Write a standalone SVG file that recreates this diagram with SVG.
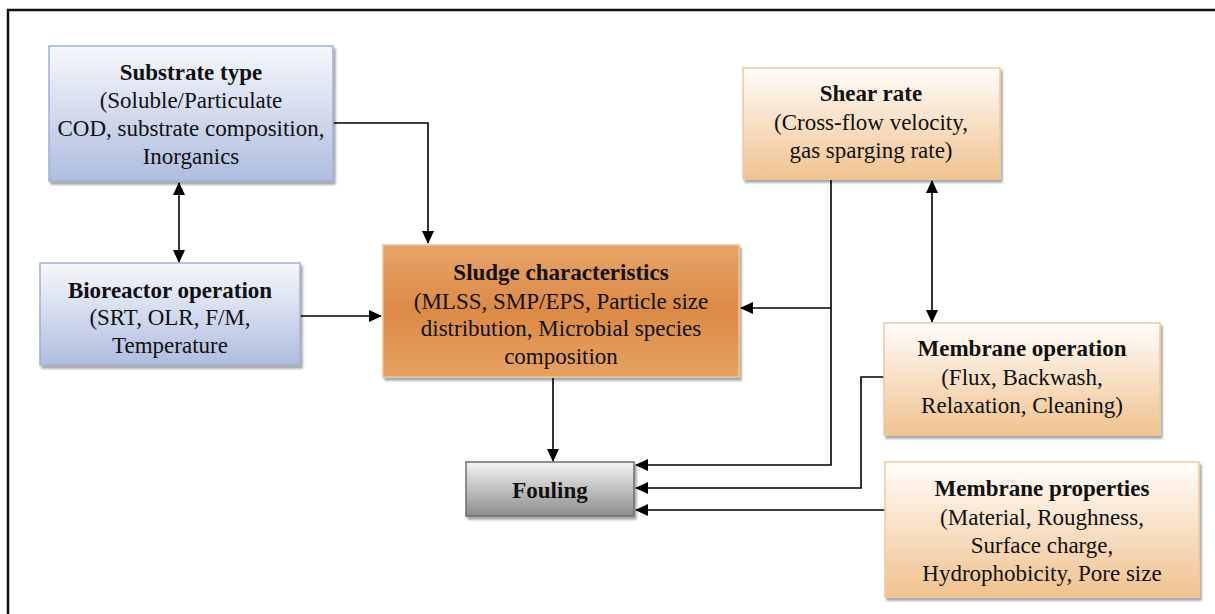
<svg xmlns="http://www.w3.org/2000/svg" width="1215" height="614" viewBox="0 0 1215 614">
<defs>
<linearGradient id="gBlue" x1="0" y1="0" x2="0" y2="1">
<stop offset="0" stop-color="#f7f8fc"/><stop offset="1" stop-color="#aebddf"/>
</linearGradient>
<linearGradient id="gPeach" x1="0" y1="0" x2="0" y2="1">
<stop offset="0" stop-color="#fffdfa"/><stop offset="1" stop-color="#f0c28f"/>
</linearGradient>
<linearGradient id="gOrange" x1="0" y1="0" x2="0" y2="1">
<stop offset="0" stop-color="#e7a469"/><stop offset="0.5" stop-color="#dc8a45"/><stop offset="1" stop-color="#e6a264"/>
</linearGradient>
<linearGradient id="gGray" x1="0" y1="0" x2="0" y2="1">
<stop offset="0" stop-color="#f4f4f4"/><stop offset="1" stop-color="#8c8c8c"/>
</linearGradient>
<marker id="ah" markerWidth="13" markerHeight="12" refX="12" refY="6" orient="auto-start-reverse" markerUnits="userSpaceOnUse">
<path d="M0,0 L13,6 L0,12 Z" fill="#000"/>
</marker>
<filter id="sh" x="-5%" y="-5%" width="115%" height="130%">
<feDropShadow dx="2" dy="3" stdDeviation="1.2" flood-color="#000" flood-opacity="0.35"/>
</filter>
</defs>
<style>
.t{font-family:"Liberation Serif","Times New Roman",serif;font-size:23px;fill:#111;text-anchor:middle}
.b{font-weight:bold}
.c{fill:none;stroke:#000;stroke-width:1.6}
.box{filter:url(#sh)}
</style>
<rect x="0" y="0" width="1215" height="614" fill="#fff"/>
<path d="M8,620 L8,10 L1220,10" fill="none" stroke="#111" stroke-width="2.5"/>

<g id="connectors">
<path class="c" d="M333,123 L428,123 L428,243" marker-end="url(#ah)"/>
<path class="c" d="M179,183 L179,262" marker-start="url(#ah)" marker-end="url(#ah)"/>
<path class="c" d="M300,316 L381,316" marker-end="url(#ah)"/>
<path class="c" d="M831,180 L831,465 L636,465" marker-end="url(#ah)"/>
<path class="c" d="M831,308 L741,308" marker-end="url(#ah)"/>
<path class="c" d="M932,181 L932,322" marker-start="url(#ah)" marker-end="url(#ah)"/>
<path class="c" d="M884,377 L861,377 L861,488 L636,488" marker-end="url(#ah)"/>
<path class="c" d="M885,510 L636,510" marker-end="url(#ah)"/>
<path class="c" d="M553,378 L553,461" marker-end="url(#ah)"/>
</g>

<g id="substrate">
<rect class="box" x="49" y="46" width="284" height="135" fill="url(#gBlue)" stroke="#9fb0d6" stroke-width="1.5"/>
<text class="t b" x="191" y="80">Substrate type</text>
<text class="t" x="191" y="108">(Soluble/Particulate</text>
<text class="t" x="191" y="136">COD, substrate composition,</text>
<text class="t" x="191" y="164">Inorganics</text>
</g>

<g id="bioreactor">
<rect class="box" x="40" y="263" width="260" height="102" fill="url(#gBlue)" stroke="#9fb0d6" stroke-width="1.5"/>
<text class="t b" x="170" y="298">Bioreactor operation</text>
<text class="t" x="170" y="325">(SRT, OLR, F/M,</text>
<text class="t" x="170" y="353">Temperature</text>
</g>

<g id="sludge">
<rect class="box" x="383" y="245" width="356" height="132" fill="url(#gOrange)" stroke="#efbf8f" stroke-width="1.5"/>
<text class="t b" x="561" y="280">Sludge characteristics</text>
<text class="t" x="561" y="309">(MLSS, SMP/EPS, Particle size</text>
<text class="t" x="561" y="336">distribution, Microbial species</text>
<text class="t" x="561" y="364">composition</text>
</g>

<g id="shear">
<rect class="box" x="743" y="68" width="257" height="111" fill="url(#gPeach)" stroke="#ecc9a0" stroke-width="1.5"/>
<text class="t b" x="871" y="101">Shear rate</text>
<text class="t" x="871" y="130">(Cross-flow velocity,</text>
<text class="t" x="871" y="158">gas sparging rate)</text>
</g>

<g id="membrane-operation">
<rect class="box" x="884" y="323" width="276" height="112" fill="url(#gPeach)" stroke="#ecc9a0" stroke-width="1.5"/>
<text class="t b" x="1022" y="356">Membrane operation</text>
<text class="t" x="1022" y="385">(Flux, Backwash,</text>
<text class="t" x="1022" y="413">Relaxation, Cleaning)</text>
</g>

<g id="membrane-properties">
<rect class="box" x="885" y="462" width="314" height="135" fill="url(#gPeach)" stroke="#ecc9a0" stroke-width="1.5"/>
<text class="t b" x="1042" y="496">Membrane properties</text>
<text class="t" x="1042" y="525">(Material, Roughness,</text>
<text class="t" x="1042" y="553">Surface charge,</text>
<text class="t" x="1042" y="581">Hydrophobicity, Pore size</text>
</g>

<g id="fouling">
<rect class="box" x="466" y="462" width="168" height="54" fill="url(#gGray)" stroke="#6e6e6e" stroke-width="1.5"/>
<text class="t b" x="550" y="498">Fouling</text>
</g>
</svg>
